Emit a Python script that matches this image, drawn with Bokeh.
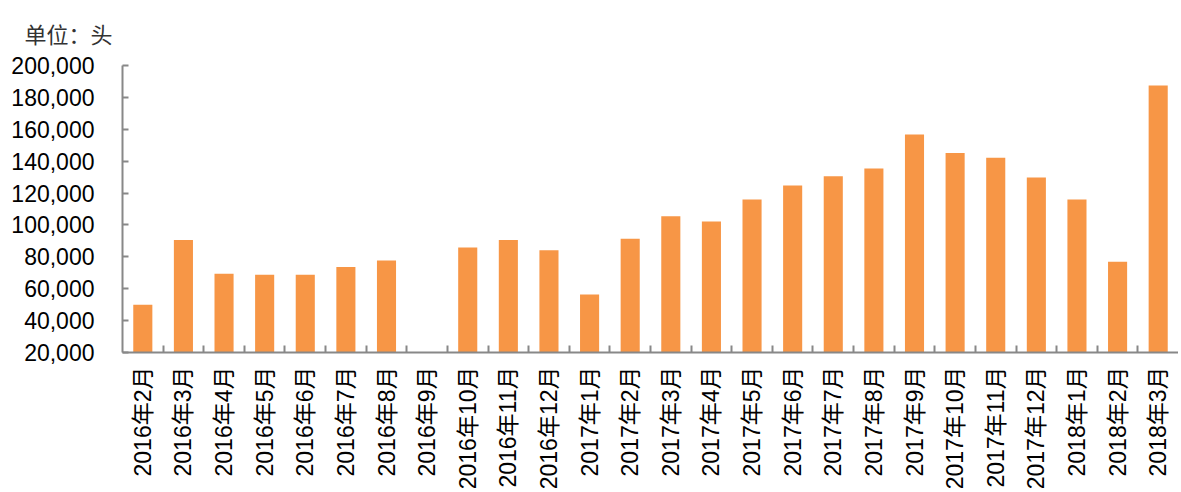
import math
from bokeh.plotting import figure
from bokeh.models import Range1d, FixedTicker, NumeralTickFormatter, Title, ColumnDataSource
from bokeh.embed import file_html
from bokeh.resources import INLINE

categories = ["2016年2月", "2016年3月", "2016年4月", "2016年5月", "2016年6月", "2016年7月",
              "2016年8月", "2016年9月", "2016年10月", "2016年11月", "2016年12月",
              "2017年1月", "2017年2月", "2017年3月", "2017年4月", "2017年5月", "2017年6月",
              "2017年7月", "2017年8月", "2017年9月", "2017年10月", "2017年11月", "2017年12月",
              "2018年1月", "2018年2月", "2018年3月"]
values = [50000, 90600, 69400, 68700, 68700, 73600,
          77700, float("nan"), 85800, 90600, 84200,
          56400, 91400, 105400, 102100, 116000, 124800,
          130600, 135400, 156700, 145200, 142100, 129800,
          116000, 76900, 187500]
y_ticks = [20000, 40000, 60000, 80000, 100000, 120000, 140000, 160000, 180000, 200000]
unit_text = "单位：头"

n = len(categories)
xs = [i + 0.5 for i in range(n)]
src = ColumnDataSource(dict(x=xs, top=values, cat=categories))

FONT = "Liberation Sans, Noto Sans CJK SC"
AXIS_COLOR = "#888888"

p = figure(width=1178, height=492, output_backend="svg", toolbar_location=None,
           x_range=Range1d(0, n), y_range=Range1d(y_ticks[0], y_ticks[-1]),
           min_border_left=122, min_border_right=0, min_border_top=65, min_border_bottom=139)
p.outline_line_color = None
p.xgrid.visible = False
p.ygrid.visible = False
p.background_fill_color = "white"

p.vbar(x="x", top="top", bottom=0, width=0.47, source=src, fill_color="#F79646", line_color=None)

# x axis
xa = p.xaxis[0]
xa.ticker = FixedTicker(ticks=xs, minor_ticks=list(range(1, n)))
xa.major_label_overrides = {x: c for x, c in zip(xs, categories)}
xa.major_label_orientation = math.pi / 2
xa.major_tick_line_color = None
xa.minor_tick_line_color = AXIS_COLOR
xa.minor_tick_line_width = 2
xa.minor_tick_in = 7
xa.minor_tick_out = 0
xa.axis_line_color = AXIS_COLOR
xa.axis_line_width = 2
xa.major_label_text_font = FONT
xa.major_label_text_font_size = "23px"
xa.major_label_text_color = "#000000"
xa.major_label_standoff = 8

# y axis
ya = p.yaxis[0]
ya.ticker = FixedTicker(ticks=y_ticks)
ya.formatter = NumeralTickFormatter(format="0,0")
ya.major_tick_in = 6
ya.major_tick_out = 0
ya.major_tick_line_color = AXIS_COLOR
ya.major_tick_line_width = 2
ya.minor_tick_line_color = None
ya.axis_line_color = AXIS_COLOR
ya.axis_line_width = 2
ya.major_label_text_font = FONT
ya.major_label_text_font_size = "23px"
ya.major_label_text_color = "#000000"
ya.major_label_standoff = 28

title = Title(text=unit_text, align="left", offset=-98, standoff=29, vertical_align="top",
              text_font="Noto Sans CJK SC", text_font_size="22px",
              text_font_style="normal", text_color="#333333")
p.add_layout(title, "above")

open("out.html", "w").write(file_html(p, INLINE))
